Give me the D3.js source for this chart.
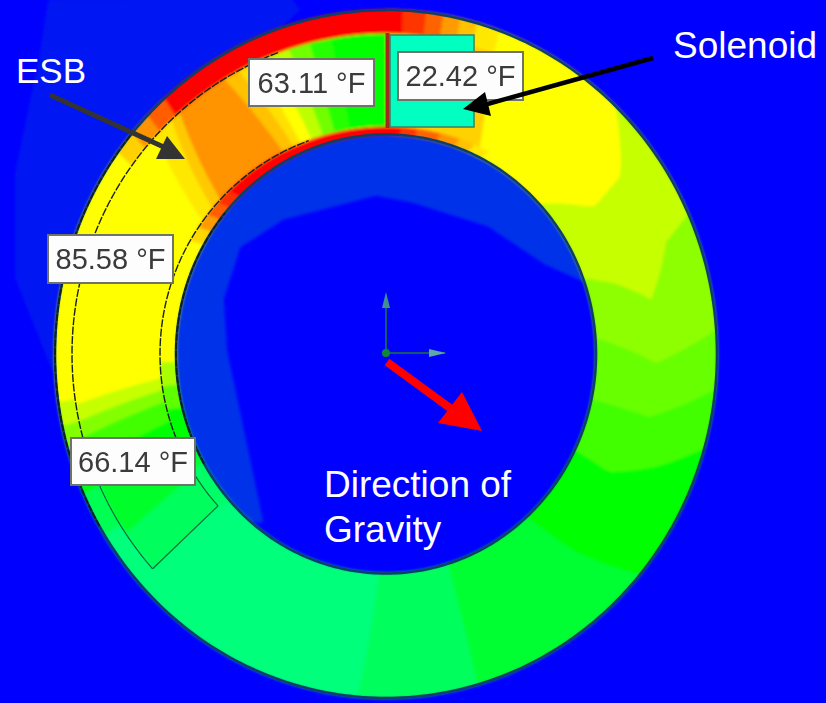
<!DOCTYPE html>
<html>
<head>
<meta charset="utf-8">
<script src="https://cdn.jsdelivr.net/npm/d3@7"></script>
<style>
  html, body { margin: 0; padding: 0; background: #0000ff; }
  svg { display: block; }
  text { font-family: "Liberation Sans", Arial, sans-serif; }
</style>
</head>
<body>
<div id="plot"></div>
<script>
// probe readings shown in the white boxes
var probeTemps = [63.11, 22.42, 85.58, 66.14];
var solenoidTemp = probeTemps[1];

// contour boundaries: clock angle (deg, 0 = top) read from inner edge to outer edge
var mainBounds = [[0, 0], [26, 22, 19], [47, 56, 54, 44], [70, 74, 79, 69, 66], [86, 92, 86],
  [102, 103, 96], [116, 117, 112, 106], [138, 135, 130], [163, 164], [182, 185], [270, 270]];
var mainTemps = [93, 87, 81, 75, 71, 67, 60, 50, 42, 36];

var esbBounds = [[228, 228], [238, 236], [247, 246], [253, 250], [258, 255], [261, 258], [264, 261],
  [306, 313], [310, 317], [313, 319], [333, 329], [336, 332], [338, 335], [341, 338], [344, 342],
  [347, 346], [351, 350], [360, 360]];
var esbTemps = [42, 52, 60, 67, 74, 81, 87, 90, 94, 101, 95, 91, 87, 80, 72, 64, 60];

var outerStripBounds = [[228], [238], [246], [250], [254], [258], [262], [306], [310], [314], [318],
  [363], [367], [370], [373], [376], [380]];
var outerStripTemps = [36, 44, 56, 66, 74, 81, 87, 93, 101, 108, 120, 113, 107, 100, 95, 90];

var innerStripBounds = [[228], [240], [248], [256], [262], [268], [300], [304], [308], [312], [316],
  [364], [368], [374], [379], [383], [387]];
var innerStripTemps = [40, 50, 60, 70, 78, 87, 92, 100, 108, 114, 120, 113, 107, 101, 95, 90];

// faint air temperature patches, x/y in ring radii
var holeAirPatch = [[.62, .20], [.48, .26], [.31, .37], [.08, .44], [-.03, .46], [-.31, .39], [-.44, .31],
  [-.49, .16], [-.48, .01], [-.37, -.49], [-.56, -.48], [-.71, .16], [-.41, .74], [0, .74], [.5, .59], [.71, .2]];
var outsideAirPatch = [[-1.02, 1.03], [-1.05, .85], [-1.12, .53], [-1.12, .22], [-1.02, -.02], [-.83, -.42],
  [-.56, -.13], [-.56, .74], [-.26, 1], [-.29, 1.04]];

// define svg area
var svgWidth = 826;
var svgHeight = 703;
var cx = 386;
var cy = 354;

// ellipse radii [rx, ry] of the ring edges
var holeEdge = [210, 219.5];
var esbInner = [226, 227];
var esbOuter = [314, 321];
var ringOuter = [331, 344];

var svg = d3.select("#plot")
  .append("svg")
  .attr("width", svgWidth)
  .attr("height", svgHeight);

// the source is a soft screenshot, so the fields and small marks get a slight blur
var defs = svg.append("defs");
defs.append("filter")
  .attr("id", "soft")
  .append("feGaussianBlur")
  .attr("stdDeviation", 1.7);
defs.append("filter")
  .attr("id", "softer")
  .append("feGaussianBlur")
  .attr("stdDeviation", 0.6);

// temperature to rainbow colour, same as the solver's legend
var tempColor = d3.scaleLinear()
  .domain([-30, 10, 60, 87, 120])
  .range(["#0000ff", "#00ffff", "#00ff00", "#ffff00", "#ff0000"]);

var angleScale = d3.scaleLinear().domain([0, 360]).range([0, 2 * Math.PI]);
var xModel = d3.scaleLinear().domain([-1, 1]).range([cx - ringOuter[0], cx + ringOuter[0]]);
var yModel = d3.scaleLinear().domain([-1, 1]).range([cy + ringOuter[1], cy - ringOuter[1]]);

// point on the ellipse blended between two edges
function ringPoint(deg, t, inner, outer) {
  var a = angleScale(deg);
  var rx = d3.interpolateNumber(inner[0], outer[0])(t);
  var ry = d3.interpolateNumber(inner[1], outer[1])(t);
  return [cx + rx * Math.sin(a), cy - ry * Math.cos(a)];
}

// angle of a contour boundary at t across the layer
function boundAngle(bound, t) {
  if (bound.length === 1) return bound[0];
  return d3.scaleLinear().domain(d3.range(bound.length).map(i => i / (bound.length - 1))).range(bound)(t);
}

function bandPoints(b0, b1, inner, outer) {
  var pts = [];
  var steps = d3.range(0, 1.001, 0.05);
  steps.forEach(t => pts.push(ringPoint(boundAngle(b0, t), t, inner, outer)));
  var a0 = boundAngle(b0, 1), a1 = boundAngle(b1, 1);
  for (var a = a0; a < a1; a += 1.5) pts.push(ringPoint(a, 1, inner, outer));
  steps.slice().reverse().forEach(t => pts.push(ringPoint(boundAngle(b1, t), t, inner, outer)));
  var a2 = boundAngle(b1, 0), a3 = boundAngle(b0, 0);
  for (var b = a2; b > a3; b -= 1.5) pts.push(ringPoint(b, 0, inner, outer));
  return pts;
}

var line = d3.line().curve(d3.curveLinearClosed);

// Append the air patches
var airGroup = svg.append("g").attr("filter", "url(#soft)");
airGroup.append("path")
  .attr("d", line(outsideAirPatch.map(p => [xModel(p[0]), yModel(p[1])])))
  .attr("fill", "#0014f2");
airGroup.append("path")
  .attr("d", line(holeAirPatch.map(p => [xModel(p[0]), yModel(p[1])])))
  .attr("fill", "#0030ea");

// draw one layer of contour bands
function drawBands(group, bounds, temps, inner, outer) {
  group.selectAll(null)
    .data(temps)
    .enter()
    .append("path")
    .attr("d", (d, i) => line(bandPoints(bounds[i], bounds[i + 1], inner, outer)))
    .attr("fill", d => tempColor(d))
    .attr("stroke", d => tempColor(d))
    .attr("stroke-width", 1);
}

var bandGroup = svg.append("g").attr("filter", "url(#soft)");

// main layer covers hole edge to outer edge, the ESB layers sit on top of it
drawBands(bandGroup, mainBounds, mainTemps, holeEdge, ringOuter);
drawBands(bandGroup, esbBounds, esbTemps, esbInner, esbOuter);
drawBands(bandGroup, outerStripBounds, outerStripTemps, esbOuter, ringOuter);
drawBands(bandGroup, innerStripBounds, innerStripTemps, holeEdge, esbInner);

// solenoid block and the divider next to it
svg.append("rect")
  .attr("x", 390).attr("y", 35)
  .attr("width", 84).attr("height", 92)
  .attr("fill", tempColor(solenoidTemp))
  .attr("stroke", "#3f7f60")
  .attr("stroke-width", 1.5)
  .attr("filter", "url(#softer)");
svg.append("line")
  .attr("x1", 387.5).attr("y1", 33)
  .attr("x2", 387.5).attr("y2", 128)
  .attr("stroke", "#a02a20")
  .attr("stroke-width", 4);

// ring edges
function ellipsePath(deg0, deg1, edge) {
  return d3.line()(d3.range(deg0, deg1 + 0.01, 1).map(a => ringPoint(a, 0, edge, edge)));
}
var edgeGroup = svg.append("g").attr("filter", "url(#softer)");
edgeGroup.append("path")
  .attr("d", ellipsePath(0, 360, ringOuter))
  .attr("fill", "none").attr("stroke", "#0b3f66").attr("stroke-width", 2.5);
edgeGroup.append("path")
  .attr("d", ellipsePath(0, 360, holeEdge))
  .attr("fill", "none").attr("stroke", "#0b3f66").attr("stroke-width", 2.5);

// darker dashes down the left of the edges
[ringOuter, holeEdge].forEach(function(edge) {
  edgeGroup.append("path")
    .attr("d", ellipsePath(240, 310, edge))
    .attr("fill", "none").attr("stroke", "#10201c").attr("stroke-width", 1.8)
    .attr("stroke-dasharray", "7,1.5");
});

// ESB outline
[esbInner, esbOuter].forEach(function(edge) {
  edgeGroup.append("path")
    .attr("d", ellipsePath(228, 248, edge))
    .attr("fill", "none").attr("stroke", "#0c6a3c").attr("stroke-width", 1.2);
  edgeGroup.append("path")
    .attr("d", ellipsePath(248, 340, edge))
    .attr("fill", "none").attr("stroke", "#15201a").attr("stroke-width", 1.4)
    .attr("stroke-dasharray", "8,1.5");
});
edgeGroup.append("line")
  .attr("x1", ringPoint(228, 0, esbOuter, esbOuter)[0]).attr("y1", ringPoint(228, 0, esbOuter, esbOuter)[1])
  .attr("x2", ringPoint(228, 0, esbInner, esbInner)[0]).attr("y2", ringPoint(228, 0, esbInner, esbInner)[1])
  .attr("stroke", "#0c6a3c").attr("stroke-width", 1.2);

// probe boxes
var probeBoxes = [
  { x: 249, y: 59, w: 125, h: 47 },
  { x: 398, y: 52, w: 125, h: 48 },
  { x: 48, y: 235, w: 125, h: 48 },
  { x: 71, y: 438, w: 124, h: 47 }
];
var probeGroup = svg.selectAll(".probe")
  .data(probeTemps)
  .enter()
  .append("g")
  .attr("class", "probe")
  .attr("transform", (d, i) => `translate(${probeBoxes[i].x}, ${probeBoxes[i].y})`);
probeGroup.append("rect")
  .attr("width", (d, i) => probeBoxes[i].w)
  .attr("height", (d, i) => probeBoxes[i].h)
  .attr("fill", "#fdfdfd")
  .attr("stroke", "#6f7468")
  .attr("stroke-width", 2);
probeGroup.append("text")
  .attr("x", (d, i) => probeBoxes[i].w / 2)
  .attr("y", 34)
  .attr("text-anchor", "middle")
  .attr("font-size", 29)
  .attr("fill", "#3a3a3a")
  .attr("filter", "url(#softer)")
  .text(d => d.toFixed(2) + " °F");

// coordinate triad in the middle
var triadGroup = svg.append("g").attr("filter", "url(#softer)");
function triadArrow(x2, y2, head, headColor) {
  triadGroup.append("line")
    .attr("x1", 386).attr("y1", 353).attr("x2", x2).attr("y2", y2)
    .attr("stroke", "#135a68").attr("stroke-width", 2);
  triadGroup.append("path")
    .attr("d", d3.line()(head))
    .attr("fill", headColor);
}
triadArrow(386, 295, [[386, 292], [382, 308], [390, 308]], "#3f8f90");
triadArrow(445, 353, [[446, 353], [429, 349], [429, 357]], "#5fa8a8");
triadGroup.append("circle")
  .attr("cx", 386).attr("cy", 353).attr("r", 4)
  .attr("fill", "#0a8a30");

// annotation arrows
function arrow(color, width, from, to, head) {
  svg.append("line")
    .attr("x1", from[0]).attr("y1", from[1]).attr("x2", to[0]).attr("y2", to[1])
    .attr("stroke", color).attr("stroke-width", width);
  svg.append("path")
    .attr("d", d3.line().curve(d3.curveLinearClosed)(head))
    .attr("fill", color);
}
arrow("#333333", 5, [50, 95], [168, 149], [[167, 136], [156, 159], [185, 159]]);
arrow("#000000", 4.5, [653, 58], [484, 105], [[463, 109], [485, 92], [491, 116]]);
arrow("#ff0000", 8, [387, 362], [450, 408], [[462, 392], [438, 423], [482, 431]]);

// white callouts
var callouts = [
  { text: "ESB", x: 16, y: 83, size: 35 },
  { text: "Solenoid", x: 673, y: 58, size: 37 },
  { text: "Direction of", x: 324, y: 497, size: 37 },
  { text: "Gravity", x: 324, y: 542, size: 37 }
];
svg.selectAll(".callout")
  .data(callouts)
  .enter()
  .append("text")
  .attr("class", "callout")
  .attr("x", d => d.x)
  .attr("y", d => d.y)
  .attr("font-size", d => d.size)
  .attr("fill", "#ffffff")
  .text(d => d.text);
</script>
</body>
</html>
